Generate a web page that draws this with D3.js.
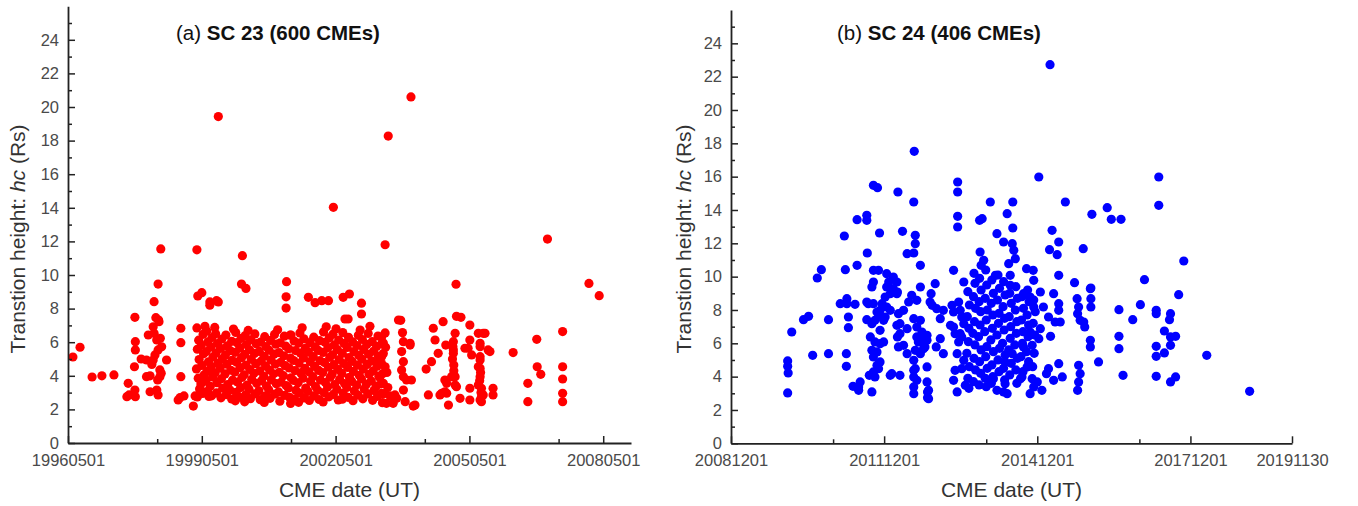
<!DOCTYPE html>
<html><head><meta charset="utf-8">
<script src="https://cdn.jsdelivr.net/npm/d3@7"></script>
<style>
body{margin:0;background:#fff}
svg{display:block}
text{font-family:"Liberation Sans",Arial,sans-serif}
</style>
</head><body>
<svg id="c" width="1358" height="506"></svg>
<script>
// ---------- data ----------
const yMajorTicks = [0,2,4,6,8,10,12,14,16,18,20,22,24];
const yMinorTicks = [1,3,5,7,9,11,13,15,17,19,21,23,25];

const sc23XTicks = [1996.33, 1999.33, 2002.33, 2005.33, 2008.33];
const sc23XLabels = ["19960501","19990501","20020501","20050501","20080501"];
const sc23XMinor = [1998.33, 2001.33, 2004.33, 2007.33];

const sc24XTicks = [2008.92, 2011.92, 2014.92, 2017.92, 2019.91];
const sc24XLabels = ["20081201","20111201","20141201","20171201","20191130"];
const sc24XMinor = [2010.92, 2013.92, 2016.92];

// SC 23: [date as decimal year, transition height hc (Rs)]
const sc23Points = [
[1996.44,5.12],[1996.60,5.70],[1996.87,3.93],[1997.09,4.00],[1997.36,4.05],
[1997.68,3.55],[1997.65,2.76],[1997.70,2.86],[1997.84,2.76],[1997.83,3.15],[1997.82,4.54],[1997.84,5.54],[1997.84,6.03],[1997.83,7.48],
[1997.97,5.00],[1998.09,4.94],[1998.17,4.00],[1998.17,3.05],[1998.21,4.68],[1998.26,6.53],[1998.26,8.41],[1998.30,7.46],[1998.37,7.22],[1998.35,9.46],[1998.32,6.13],[1998.35,5.54],[1998.39,4.35],[1998.39,3.95],[1998.32,3.15],[1998.35,2.86],[1998.28,5.24],[1998.54,4.94],[1998.13,6.43],[1998.24,4.94],[1998.34,3.75],[1998.09,3.95],[1998.41,11.55],[1998.24,6.92],[1998.40,6.23],[1998.43,5.73],[1998.42,4.15],[1998.36,7.32],
[1998.86,6.83],[1998.86,5.97],[1998.86,3.95],[1998.84,2.70],[1998.93,2.80],[1999.14,2.20],[1999.18,2.80],[1999.36,3.05],[1998.80,2.56],
[1999.22,11.50],[1999.24,8.75],[1999.33,8.95],[1999.51,8.40],[1999.70,8.40],[1999.66,8.47],[1999.51,8.20],[1999.70,19.43],[2000.22,9.46],[2000.32,9.20],[2000.24,11.15],
[2001.23,9.60],[2001.22,8.70],[2001.22,8.03],[2001.33,6.43],[2001.72,8.67],[2001.87,8.35],[2002.02,8.47],[2002.17,8.47],[2002.50,8.67],[2002.64,8.87],[2002.54,7.38],[2002.61,7.38],[2002.91,8.32],[2002.91,7.68],[2003.74,7.32],[2002.28,14.03],[2003.51,18.27],[2003.44,11.80],[2004.02,20.60],
[1999.40,6.95],[1999.62,6.88],[2000.04,6.78],[2000.37,6.70],[2001.03,6.74],[2001.58,6.86],[2002.12,6.92],[2002.34,6.80],[2002.88,6.72],[2003.10,6.95],
[1999.22,6.85],[1999.26,6.12],[1999.23,5.58],[1999.27,4.97],[1999.21,4.41],[1999.25,3.86],[1999.28,3.22],[1999.23,2.74],
[1999.36,6.47],[1999.32,5.83],[1999.37,5.31],[1999.33,4.62],[1999.38,4.05],[1999.31,3.51],[1999.35,2.95],
[1999.44,6.66],[1999.47,6.02],[1999.43,5.44],[1999.48,4.83],[1999.45,4.27],[1999.42,3.68],[1999.46,3.08],[1999.49,2.77],
[1999.56,6.28],[1999.53,5.71],[1999.58,5.12],[1999.54,4.55],[1999.57,3.93],[1999.52,3.37],[1999.55,2.81],
[1999.64,6.51],[1999.68,5.92],[1999.65,5.36],[1999.69,4.74],[1999.63,4.18],[1999.67,3.59],[1999.66,2.98],
[1999.78,6.19],[1999.75,5.63],[1999.79,5.01],[1999.74,4.46],[1999.77,3.82],[1999.80,3.26],[1999.76,2.69],
[1999.87,6.43],[1999.90,5.78],[1999.86,5.24],[1999.89,4.69],[1999.85,4.11],[1999.91,3.47],[1999.88,2.88],
[2000.00,6.05],[1999.97,5.49],[2000.01,4.92],[1999.98,4.33],[2000.02,3.74],[1999.96,3.15],[2000.00,2.62],
[2000.09,6.58],[2000.12,5.97],[2000.08,5.40],[2000.11,4.81],[2000.07,4.22],[2000.13,3.63],[2000.10,3.01],[2000.08,2.51],
[2000.21,6.23],[2000.18,5.66],[2000.22,5.08],[2000.19,4.49],[2000.23,3.90],[2000.20,3.30],[2000.17,2.73],
[2000.30,6.39],[2000.33,5.86],[2000.29,5.27],[2000.32,4.64],[2000.28,4.06],[2000.34,3.44],[2000.31,2.86],[2000.29,2.45],
[2000.43,6.14],[2000.40,5.55],[2000.44,4.98],[2000.41,4.37],[2000.45,3.79],[2000.39,3.19],[2000.42,2.64],
[2000.52,6.49],[2000.55,5.91],[2000.51,5.33],[2000.54,4.72],[2000.50,4.15],[2000.56,3.55],[2000.53,2.93],
[2000.65,6.01],[2000.62,5.45],[2000.66,4.87],[2000.63,4.29],[2000.67,3.70],[2000.61,3.11],[2000.64,2.58],
[2000.74,6.33],[2000.77,5.74],[2000.73,5.16],[2000.76,4.58],[2000.72,3.97],[2000.78,3.39],[2000.75,2.79],[2000.73,2.41],
[2000.87,6.11],[2000.84,5.52],[2000.88,4.94],[2000.85,4.34],[2000.89,3.76],[2000.83,3.17],[2000.86,2.66],
[2000.96,6.46],[2000.99,5.88],[2000.95,5.29],[2000.98,4.70],[2000.94,4.12],[2001.00,3.53],[2000.97,2.91],
[2001.09,5.96],[2001.06,5.38],[2001.10,4.80],[2001.07,4.21],[2001.11,3.62],[2001.05,3.04],[2001.08,2.49],
[2001.18,6.36],[2001.21,5.77],[2001.17,5.19],[2001.20,4.60],[2001.16,4.01],[2001.22,3.42],[2001.19,2.84],
[2001.31,6.42],[2001.28,5.61],[2001.32,5.05],[2001.29,4.47],[2001.33,3.88],[2001.27,3.28],[2001.30,2.71],[2001.32,2.35],
[2001.40,6.07],[2001.43,5.50],[2001.39,4.91],[2001.42,4.31],[2001.38,3.73],[2001.44,3.13],[2001.41,2.60],
[2001.53,6.55],[2001.50,5.95],[2001.54,5.35],[2001.51,4.76],[2001.55,4.17],[2001.49,3.58],[2001.52,2.97],[2001.50,2.42],
[2001.62,6.20],[2001.65,5.64],[2001.61,5.06],[2001.64,4.45],[2001.60,3.86],[2001.66,3.27],[2001.63,2.68],
[2001.75,5.98],[2001.72,5.41],[2001.76,4.84],[2001.73,4.24],[2001.77,3.66],[2001.71,3.07],[2001.74,2.53],
[2001.84,6.30],[2001.87,5.72],[2001.83,5.14],[2001.86,4.56],[2001.82,3.95],[2001.88,3.36],[2001.85,2.80],
[2001.97,6.09],[2001.94,5.51],[2001.98,4.90],[2001.95,4.32],[2001.99,3.75],[2001.93,3.14],[2001.96,2.59],
[2002.06,6.61],[2002.09,5.99],[2002.05,5.39],[2002.08,4.79],[2002.04,4.19],[2002.10,3.60],[2002.07,3.00],[2002.05,2.44],
[2002.19,6.26],[2002.16,5.68],[2002.20,5.10],[2002.17,4.51],[2002.21,3.92],[2002.15,3.33],[2002.18,2.75],
[2002.27,6.48],[2002.30,5.84],[2002.26,5.25],[2002.29,4.66],[2002.25,4.08],[2002.31,3.48],[2002.28,2.89],
[2002.40,6.13],[2002.37,5.56],[2002.41,4.97],[2002.38,4.38],[2002.42,3.78],[2002.36,3.20],[2002.39,2.56],
[2002.49,6.57],[2002.52,5.93],[2002.48,5.34],[2002.51,4.73],[2002.47,4.14],[2002.53,3.54],[2002.50,2.96],[2002.48,2.61],
[2002.62,6.29],[2002.59,5.69],[2002.63,5.09],[2002.60,4.50],[2002.64,3.91],[2002.58,3.31],[2002.61,2.72],
[2002.71,6.02],[2002.74,5.44],[2002.70,4.86],[2002.73,4.26],[2002.69,3.67],[2002.75,3.09],[2002.72,2.52],
[2002.84,6.41],[2002.81,5.80],[2002.85,5.22],[2002.82,4.63],[2002.86,4.03],[2002.80,3.45],[2002.83,2.85],
[2002.93,6.16],[2002.96,5.57],[2002.92,4.99],[2002.95,4.40],[2002.91,3.81],[2002.97,3.22],[2002.94,2.63],
[2003.06,6.52],[2003.03,5.87],[2003.07,5.28],[2003.04,4.68],[2003.08,4.09],[2003.02,3.50],[2003.05,2.92],
[2003.15,6.03],[2003.18,5.46],[2003.14,4.88],[2003.17,4.28],[2003.13,3.69],[2003.19,3.12],[2003.16,2.54],
[2003.28,6.37],[2003.25,5.75],[2003.29,5.17],[2003.26,4.57],[2003.30,3.98],[2003.24,3.38],[2003.27,2.78],
[2003.37,5.94],[2003.40,5.32],[2003.36,4.73],[2003.39,4.13],[2003.35,3.52],[2003.41,2.93],[2003.38,2.40],
[2003.44,6.55],[2003.40,5.95],[2003.36,5.14],[2003.44,4.54],[2003.40,3.55],[2003.36,2.96],[2003.62,2.36],[2003.47,2.36],[2003.70,2.66],[2003.79,7.30],[2003.83,6.57],[2003.85,6.03],[2004.00,5.83],[2003.81,5.44],[2003.85,4.84],[2003.81,4.35],[2003.92,3.75],[2004.03,3.75],[2003.85,3.15],[2003.89,2.46],[2004.11,2.26],[2004.07,2.20],[2003.66,2.86],[2003.85,3.95],[2004.00,5.93],[2003.36,6.30],[2003.45,5.70],[2003.30,4.90],[2003.48,4.20],[2003.32,3.90],[2003.50,3.30],[2003.55,2.80],
[2004.36,4.40],[2004.41,2.86],[2004.48,4.84],[2004.52,6.83],[2004.56,6.13],[2004.63,5.34],[2004.74,7.22],[2004.80,5.83],[2004.78,3.75],[2004.82,2.96],[2005.04,7.54],[2005.01,6.53],[2004.96,5.73],[2004.97,5.34],[2004.98,4.64],[2004.93,3.95],[2004.82,3.55],[2004.71,2.96],[2004.86,2.26],[2005.12,2.66],[2005.04,3.35],[2005.01,3.95],[2005.01,3.45],[2004.78,3.05],[2004.67,2.86],[2004.97,6.03],[2004.97,5.54],[2005.14,7.48],[2005.23,5.64],[2005.34,7.02],[2005.34,6.13],[2005.30,5.64],[2005.38,5.24],[2005.34,3.26],[2005.34,2.56],[2005.53,6.53],[2005.64,6.53],[2005.57,5.93],[2005.75,5.54],[2005.57,5.14],[2005.53,4.54],[2005.57,3.95],[2005.60,3.26],[2005.57,2.56],[2005.64,2.86],[2005.86,3.26],[2005.86,2.86],[2005.57,4.94],[2005.57,4.45],[2005.53,3.45],[2005.60,2.76],[2005.60,2.46],[2005.79,5.44],[2005.68,6.53],[2005.57,5.73],[2005.03,9.45],[2005.58,4.20],[2005.56,3.70],[2005.59,3.00],[2004.98,4.30],[2004.95,5.00],
[2006.31,5.38],[2006.64,3.55],[2006.64,2.46],[2006.84,6.17],[2006.85,4.54],[2006.93,4.09],[2007.08,12.14],[2007.42,6.63],[2007.42,4.54],[2007.42,3.81],[2007.42,2.96],[2007.42,2.46],[2008.01,9.50],[2008.24,8.77]
];

// SC 24: [date as decimal year, transition height hc (Rs)]
const sc24Points = [
[2010.03,4.94],[2010.03,4.62],[2010.04,4.22],[2010.03,3.02],[2010.11,6.68],[2010.34,7.42],[2010.44,7.62],[2010.52,5.28],[2010.61,9.92],[2010.69,10.42],[2010.83,7.42],[2010.83,5.38],[2011.06,8.38],[2011.16,10.42],[2011.19,8.68],[2011.22,7.58],[2011.22,6.94],[2011.18,5.38],[2011.18,4.62],[2011.35,8.34],[2011.39,10.68],[2011.31,3.42],[2011.42,3.38],[2011.45,3.68],[2011.59,11.42],[2011.58,8.48],[2011.58,7.42],[2011.65,6.38],[2011.71,9.68],[2011.71,10.38],[2011.81,10.38],[2011.63,4.08],[2011.68,3.08],[2011.74,3.98],[2011.81,4.48],[2011.84,4.88],[2011.78,5.48],[2011.84,5.98],[2011.78,7.88],[2011.88,8.38],[2011.91,7.38],[2012.04,7.98],[2012.04,8.98],[2011.97,10.18],[2012.10,9.98],[2012.17,9.68],[2012.10,9.08],[2012.18,9.08],[2012.04,4.08],[2012.23,4.08],[2012.17,7.08],[2012.20,5.78],[2012.18,6.38],[2012.30,7.98],[2012.37,11.38],[2012.50,11.42],[2012.53,11.98],[2012.40,8.48],[2012.46,8.88],[2012.56,8.58],[2012.63,10.68],[2012.63,9.38],[2012.50,7.48],[2012.56,6.98],[2012.56,6.38],[2012.59,6.08],[2012.53,5.58],[2012.50,4.38],[2012.56,3.78],[2012.50,3.38],[2012.50,2.98],[2012.63,7.38],[2012.66,6.68],[2012.69,5.68],[2012.76,6.18],[2012.76,4.58],[2012.76,3.68],[2012.77,3.08],[2012.77,2.74],[2012.84,8.98],[2012.86,8.28],[2012.92,9.58],[2012.94,5.78],[2013.02,7.48],[2013.02,6.28],[2013.08,7.98],[2013.28,10.38],[2013.25,8.28],[2013.28,6.98],[2013.31,6.58],[2013.28,3.78],[2013.35,3.08],[2013.38,8.48],[2013.41,7.98],[2013.44,6.38],[2013.48,9.68],[2013.44,7.58],[2013.48,4.98],[2013.51,3.48],[2013.44,4.48],
[2011.71,15.48],[2011.79,15.34],[2012.19,15.08],[2012.50,14.48],[2013.36,15.68],[2013.36,15.08],[2013.36,13.62],[2013.36,12.98],[2014.00,14.48],[2013.79,13.38],[2013.84,13.48],[2011.58,13.68],[2011.58,13.38],[2011.39,13.42],[2011.14,12.44],[2011.83,12.62],[2012.28,12.72],[2012.53,12.48],[2014.13,12.58],[2013.80,11.48],[2013.87,10.98],[2013.82,10.68],
[2012.01,9.68],[2012.10,9.28],[2012.17,8.98],[2011.94,8.78],[2011.97,8.18],[2011.84,7.68],[2012.20,7.78],[2012.23,7.18],[2012.37,6.88],[2012.66,6.18],[2012.76,6.48],[2012.72,5.78],[2012.63,5.38],[2012.50,4.98],[2012.53,4.48],[2012.50,3.98],[2012.79,3.18],[2012.79,2.68],[2012.37,5.38],[2012.30,5.88],[2012.23,6.58],[2011.91,6.08],[2011.74,6.08],[2011.68,5.58],[2011.71,5.18],[2011.78,4.68],[2011.71,4.28],[2011.42,3.18],[2012.07,4.18],[2011.84,6.78],[2011.68,7.18],[2011.61,8.38],[2011.71,8.38],[2011.19,8.38],[2013.22,7.08],[2013.28,7.88],[2013.48,7.58],[2013.48,7.18],[2013.41,6.58],[2013.38,6.08],[2013.35,5.38],[2013.31,4.38],[2013.08,5.38],[2012.95,8.08],[2012.82,8.48],[2011.68,9.38],[2011.97,9.38],[2012.07,9.08],[2011.84,7.98],[2011.94,7.58],[2011.74,7.38],
[2012.51,17.52],[2015.17,22.72],
[2013.56,9.1],[2013.59,8.3],[2013.55,7.6],[2013.58,6.9],[2013.57,6.1],[2013.54,5.4],[2013.59,4.6],[2013.56,3.9],[2013.58,3.3],
[2013.68,10.2],[2013.70,9.6],[2013.67,8.8],[2013.71,8.1],[2013.69,7.3],[2013.66,6.6],[2013.70,5.9],[2013.68,5.1],[2013.71,4.4],[2013.67,3.7],
[2013.79,9.9],[2013.82,9.2],[2013.78,8.5],[2013.81,7.9],[2013.80,7.1],[2013.77,6.4],[2013.82,5.6],[2013.79,4.9],[2013.81,4.2],[2013.78,3.5],
[2013.91,10.4],[2013.93,9.5],[2013.90,8.7],[2013.94,8.0],[2013.92,7.4],[2013.89,6.7],[2013.93,5.8],[2013.91,5.2],[2013.94,4.5],[2013.90,3.9],[2013.92,3.4],
[2014.03,9.8],[2014.06,9.0],[2014.02,8.4],[2014.05,7.7],[2014.04,6.9],[2014.01,6.2],[2014.06,5.5],[2014.03,4.7],[2014.05,4.0],[2014.02,3.6],
[2014.15,10.1],[2014.18,9.3],[2014.14,8.6],[2014.17,7.8],[2014.16,7.2],[2014.13,6.5],[2014.18,5.7],[2014.15,5.0],[2014.17,4.3],
[2014.26,9.7],[2014.29,8.9],[2014.25,8.2],[2014.28,7.5],[2014.27,6.8],[2014.24,6.0],[2014.29,5.3],[2014.26,4.5],[2014.28,3.8],
[2014.38,9.0],[2014.41,8.4],[2014.37,7.6],[2014.40,7.0],[2014.39,6.3],[2014.36,5.6],[2014.41,4.8],[2014.38,4.1],
[2014.50,9.4],[2014.53,8.7],[2014.49,8.0],[2014.52,7.3],[2014.51,6.6],[2014.48,5.9],[2014.53,5.1],[2014.50,4.4],[2014.52,3.6],
[2014.62,8.8],[2014.65,8.1],[2014.61,7.4],[2014.64,6.7],[2014.63,6.0],[2014.60,5.2],[2014.64,4.3],
[2014.73,9.2],[2014.76,8.5],[2014.72,7.7],[2014.75,7.1],[2014.74,6.4],[2014.71,5.5],[2014.75,4.9],
[2014.85,8.6],[2014.88,7.9],[2014.84,7.2],[2014.87,6.5],[2014.86,5.4],[2014.83,4.6],
[2014.95,15.98],[2017.30,15.98],[2017.30,14.28],[2014.44,14.48],[2015.47,14.48],[2014.33,13.78],[2015.99,13.74],[2016.29,14.14],[2016.37,13.44],[2016.56,13.44],[2014.44,12.92],[2015.21,12.78],[2014.26,12.08],[2014.43,11.98],[2015.34,12.08],[2015.16,11.62],[2015.31,11.32],[2015.82,11.68],[2014.46,11.58],[2014.49,11.08],[2014.36,10.78],[2017.79,10.94],[2014.71,10.48],[2014.84,10.38],[2014.10,10.08],[2014.39,10.08],[2014.39,9.48],[2014.85,9.78],[2015.34,10.08],[2015.65,9.64],[2015.97,9.32],[2017.02,9.82],[2014.98,9.08],[2014.65,8.98],[2015.24,8.98],[2015.34,8.38],[2015.34,7.98],[2014.78,8.78],[2014.85,8.18],[2015.04,8.18],[2015.14,7.58],[2015.27,7.28],[2015.37,7.28],[2015.70,8.68],[2015.73,8.18],[2015.71,7.78],[2015.76,7.38],[2015.85,6.98],[2015.97,8.68],[2015.97,8.18],[2016.52,8.02],[2016.94,8.32],[2016.79,7.42],[2017.25,7.98],[2017.25,7.78],[2017.53,7.78],[2017.51,7.42],[2017.69,8.92],[2017.41,6.74],[2017.63,6.42],[2017.53,6.38],[2017.53,5.88],[2017.25,5.82],[2017.25,5.22],[2017.41,5.42],[2016.52,6.42],[2016.52,5.68],[2015.96,6.18],[2015.96,5.78],[2016.12,4.88],[2015.18,6.42],[2014.98,6.88],[2014.78,6.68],[2014.95,6.28],[2014.82,5.88],[2014.65,5.78],[2014.43,5.38],[2014.29,4.88],[2014.72,4.58],[2014.62,3.98],[2014.82,3.88],[2014.92,3.68],[2014.85,3.38],[2014.78,2.98],[2015.01,3.18],[2015.14,4.48],[2015.34,4.78],[2015.24,3.78],[2015.41,3.98],[2015.10,4.18],[2015.73,4.68],[2015.76,4.18],[2015.73,3.68],[2015.71,3.18],[2016.60,4.08],[2017.25,4.02],[2017.53,3.68],[2017.63,3.98],[2018.24,5.28],[2019.08,3.12],[2014.06,3.88],[2014.29,3.58],[2014.13,3.18],[2014.33,2.98],[2015.83,7.28],[2015.96,9.28],[2014.59,3.88],[2014.26,3.08]
];

// ---------- drawing ----------
const svg = d3.select("#c");

function drawPanel(cfg) {
  const x = d3.scaleLinear().domain(cfg.xDomain).range(cfg.xRange);
  const y = d3.scaleLinear().domain([0, 26]).range(cfg.yRange);
  const g = svg.append("g");
  const y0 = cfg.yRange[0];
  const x0 = cfg.xRange[0];

  g.append("g").selectAll("circle").data(cfg.points).join("circle")
    .attr("cx", d => x(d[0])).attr("cy", d => y(d[1]))
    .attr("r", 4.6).attr("fill", cfg.color);

  const styleAxis = s => {
    s.select(".domain").attr("stroke", "#222").attr("stroke-width", 1.8);
    s.selectAll(".tick line").attr("stroke", "#222").attr("stroke-width", 1.5);
    s.selectAll(".tick text").attr("fill", "#4a4a4a").attr("font-size", 16.5)
      .attr("font-family", '"Liberation Sans", Arial, sans-serif');
  };

  // x minor
  g.append("g").attr("transform", `translate(0,${y0})`)
    .call(d3.axisBottom(x).tickValues(cfg.xMinor).tickSize(-4).tickFormat(() => ""))
    .call(s => s.select(".domain").remove())
    .call(styleAxis);
  // x major
  const lab = new Map(cfg.xTicks.map((t, i) => [t, cfg.xLabels[i]]));
  g.append("g").attr("transform", `translate(0,${y0})`)
    .call(d3.axisBottom(x).tickValues(cfg.xTicks).tickSizeInner(-7).tickSizeOuter(0)
      .tickPadding(11).tickFormat(d => lab.get(d)))
    .call(styleAxis);
  // y minor
  g.append("g").attr("transform", `translate(${x0},0)`)
    .call(d3.axisLeft(y).tickValues(yMinorTicks).tickSize(-4).tickFormat(() => ""))
    .call(s => s.select(".domain").remove())
    .call(styleAxis);
  // y major
  g.append("g").attr("transform", `translate(${x0},0)`)
    .call(d3.axisLeft(y).tickValues(yMajorTicks).tickSizeInner(-7).tickSizeOuter(0)
      .tickPadding(9))
    .call(styleAxis);

  // axis titles
  const yt = g.append("text")
    .attr("transform", `translate(${cfg.yTitleX},239) rotate(-90)`)
    .attr("text-anchor", "middle").attr("font-size", 21).attr("fill", "#333");
  yt.append("tspan").text("Transtion height: ");
  yt.append("tspan").attr("font-style", "italic").text("hc");
  yt.append("tspan").text(" (Rs)");

  g.append("text")
    .attr("x", (cfg.xRange[0] + cfg.xRange[1]) / 2).attr("y", 497)
    .attr("text-anchor", "middle").attr("font-size", 21).attr("fill", "#333")
    .text("CME date (UT)");

  const t = g.append("text").attr("x", cfg.titleX).attr("y", 40)
    .attr("font-size", 20.5).attr("fill", "#111");
  t.append("tspan").text(cfg.titlePrefix + " ");
  t.append("tspan").attr("font-weight", "bold").text(cfg.titleMain);
}

drawPanel({
  points: sc23Points, color: "#ff0000",
  xDomain: [1996.33, 2008.953], xRange: [68, 631], yRange: [443, 6.2],
  xTicks: sc23XTicks, xLabels: sc23XLabels, xMinor: sc23XMinor,
  yTitleX: 25, titleX: 176, titlePrefix: "(a)", titleMain: "SC 23 (600 CMEs)"
});
drawPanel({
  points: sc24Points, color: "#0000ff",
  xDomain: [2008.92, 2019.91], xRange: [731, 1292], yRange: [443.3, 10],
  xTicks: sc24XTicks, xLabels: sc24XLabels, xMinor: sc24XMinor,
  yTitleX: 691, titleX: 837, titlePrefix: "(b)", titleMain: "SC 24 (406 CMEs)"
});
</script>
</body></html>
